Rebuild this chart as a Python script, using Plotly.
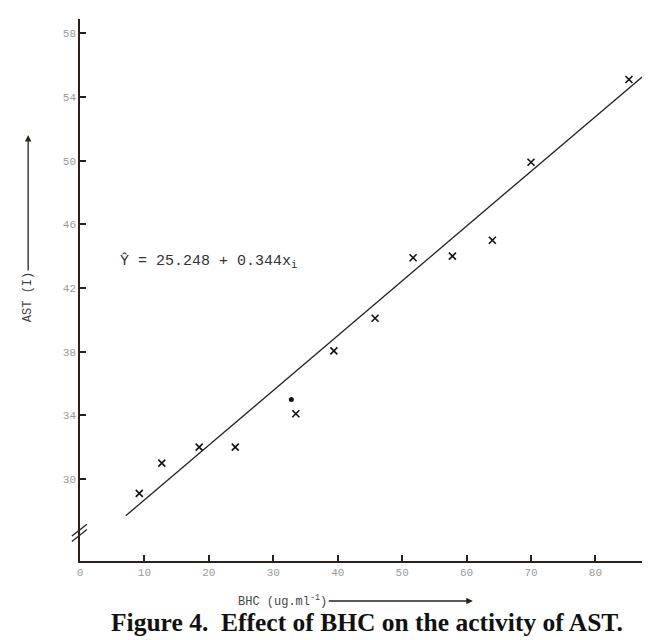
import plotly.graph_objects as go

# Data
bhc = [9.2, 12.7, 18.5, 24.1, 33.5, 39.4, 45.8, 51.7, 57.8, 64.0, 70.0, 85.2]
ast = [29.1, 31.0, 32.0, 32.0, 34.1, 38.05, 40.1, 43.9, 44.0, 45.0, 49.9, 55.1]
blob_x = [32.8]
blob_y = [35.0]
intercept = 25.248
slope = 0.344
fit_x = [7.1, 88.0]
fit_y = [intercept + slope * v for v in fit_x]
x_ticks = [0, 10, 20, 30, 40, 50, 60, 70, 80]
y_ticks = [30, 34, 38, 42, 46, 50, 54, 58]

axis_col = "#2b2118"
tick_font = dict(family="Liberation Mono", size=11, color="#9a9a9a")

fig = go.Figure()
fig.add_trace(go.Scatter(x=fit_x, y=fit_y, mode="lines",
                         line=dict(color="#222222", width=1.3), showlegend=False))
fig.add_trace(go.Scatter(x=bhc, y=ast, mode="markers",
                         marker=dict(symbol="x-thin", size=7,
                                     line=dict(color="#111111", width=1.6)),
                         showlegend=False))
fig.add_trace(go.Scatter(x=blob_x, y=blob_y, mode="markers",
                         marker=dict(symbol="circle", size=5, color="#111111"),
                         showlegend=False))

fig.update_layout(
    width=650, height=640,
    margin=dict(l=72, r=2, t=11, b=87),
    paper_bgcolor="white", plot_bgcolor="white",
    xaxis=dict(range=[0, 89.4], tickvals=x_ticks, ticks="inside", ticklen=6,
               tickwidth=1.5, tickcolor=axis_col, showline=True, linecolor=axis_col,
               linewidth=1.5, showgrid=False, zeroline=False, tickfont=tick_font),
    yaxis=dict(range=[24.85, 58.9], tickvals=y_ticks, ticks="inside", ticklen=6,
               tickwidth=1.5, tickcolor=axis_col, showline=True, linecolor=axis_col,
               linewidth=1.5, showgrid=False, zeroline=False, tickfont=tick_font),
    annotations=[
        dict(text="Ŷ = 25.248 + 0.344x<sub>i</sub>", xref="paper", yref="paper",
             x=0.066, y=0.552, xanchor="left", yanchor="middle", showarrow=False,
             font=dict(family="Liberation Mono", size=15, color="#333333")),
        dict(text="AST (I)", xref="paper", yref="paper", x=-0.090, y=0.786,
             textangle=-90, showarrow=True, ax=0, ay=162, arrowhead=2,
             arrowsize=1, arrowwidth=1.3, arrowcolor="#2b2118", standoff=0,
             font=dict(family="Liberation Mono", size=12, color="#444444")),
        dict(text="BHC (ug.ml<sup>-1</sup>)", xref="paper", yref="paper",
             x=0.682, y=-0.0738, ax=-190, ay=0, showarrow=True, arrowhead=2,
             arrowsize=1, arrowwidth=1.3, arrowcolor="#2b2118",
             font=dict(family="Liberation Mono", size=12, color="#444444")),
        dict(text="<b>Figure 4.  Effect of BHC on the activity of AST.</b>",
             xref="paper", yref="paper", x=0.498, y=-0.113, xanchor="center",
             yanchor="middle", showarrow=False,
             font=dict(family="Liberation Serif", size=25.5, color="#111111")),
    ],
    shapes=[
        dict(type="line", xref="paper", yref="paper",
             x0=-0.014, y0=0.036, x1=0.012, y1=0.058,
             line=dict(color=axis_col, width=1.3)),
        dict(type="line", xref="paper", yref="paper",
             x0=-0.014, y0=0.046, x1=0.012, y1=0.068,
             line=dict(color=axis_col, width=1.3)),
    ],
)

fig.write_html("out.html")
